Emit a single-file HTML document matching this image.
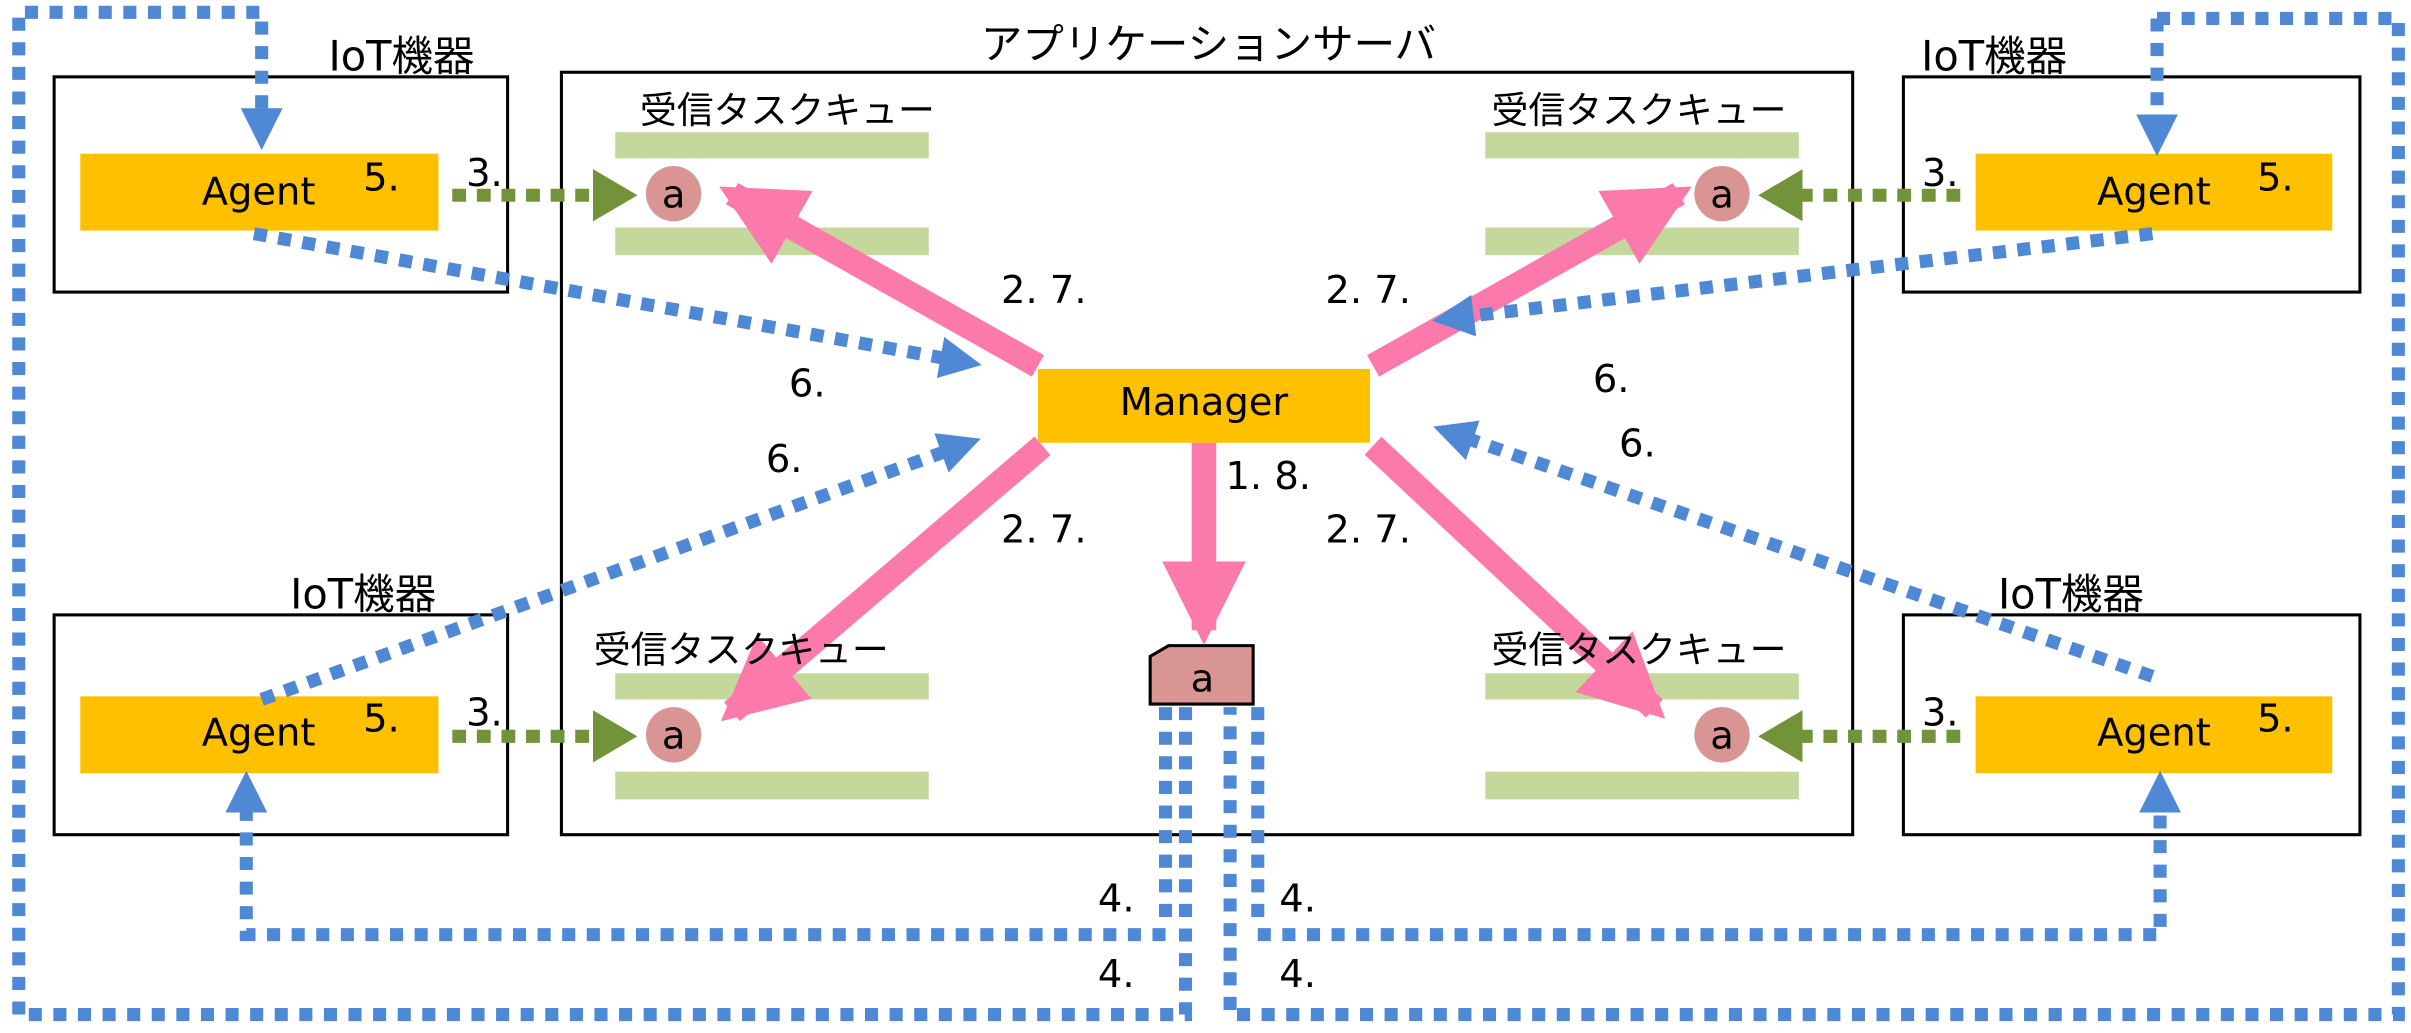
<!DOCTYPE html>
<html><head><meta charset="utf-8"><style>
html,body{margin:0;padding:0;background:#fff}
svg{display:block}
text{font-family:"DejaVu Sans","Noto Sans CJK JP",sans-serif;fill:#000}
</style></head><body>
<svg width="2411" height="1033" viewBox="0 0 1568 672" xmlns="http://www.w3.org/2000/svg">
<defs>
<marker id="bl" markerWidth="3.2" markerHeight="3.2" refX="1.6" refY="1.6" orient="auto" markerUnits="strokeWidth"><path d="M0,0 L3.2,1.6 L0,3.2 Z" fill="#4f88d5"/></marker>
<marker id="gr" markerWidth="3.4" markerHeight="4" refX="1.7" refY="2" orient="auto" markerUnits="strokeWidth"><path d="M0,0 L3.4,2 L0,4 Z" fill="#72933a"/></marker>
<marker id="pk" markerWidth="3.4" markerHeight="3.4" refX="2.8" refY="1.7" orient="auto" markerUnits="strokeWidth"><path d="M0,0 L3.4,1.7 L0,3.4 Z" fill="#fb7aab"/></marker>
</defs>
<g fill="none" stroke="#000" stroke-width="2">
<rect x="35" y="50" width="295" height="140"/>
<rect x="1238" y="50" width="297" height="140"/>
<rect x="35" y="400" width="295" height="143"/>
<rect x="1238" y="400" width="297" height="143"/>
<rect x="365" y="47" width="840" height="496"/>
</g>
<g fill="#c5d89c">
<rect x="400" y="86" width="204" height="17"/><rect x="400" y="148" width="204" height="18"/>
<rect x="966" y="86" width="204" height="17"/><rect x="966" y="148" width="204" height="18"/>
<rect x="400" y="438" width="204" height="17"/><rect x="400" y="502" width="204" height="18"/>
<rect x="966" y="438" width="204" height="17"/><rect x="966" y="502" width="204" height="18"/>
</g>
<g fill="#ffc000">
<rect x="52" y="100" width="233" height="50"/>
<rect x="1285" y="100" width="232" height="50"/>
<rect x="52" y="453" width="233" height="50"/>
<rect x="1285" y="453" width="232" height="50"/>
<rect x="675" y="240" width="216" height="48"/>
</g>
<g fill="#d99594">
<circle cx="438" cy="126" r="18"/><circle cx="1120" cy="126" r="18"/>
<circle cx="438" cy="478" r="18"/><circle cx="1120" cy="478" r="18"/>
</g>
<path d="M760,420 L815,420 L815,458 L748,458 L748,427 Z" fill="#d99594" stroke="#000" stroke-width="2"/>
<g stroke="#fb7aab" stroke-width="16" fill="none">
<line x1="675" y1="238" x2="476" y2="126" marker-end="url(#pk)"/>
<line x1="893" y1="238" x2="1092" y2="126" marker-end="url(#pk)"/>
<line x1="678" y1="290" x2="476" y2="463" marker-end="url(#pk)"/>
<line x1="893" y1="290" x2="1076" y2="461" marker-end="url(#pk)"/>
<line x1="783" y1="288" x2="783" y2="410" marker-end="url(#pk)"/>
</g>
<g stroke="#72933a" stroke-width="8.5" stroke-dasharray="9 7" fill="none">
<line x1="294" y1="127" x2="400" y2="127" marker-end="url(#gr)"/>
<line x1="294" y1="479" x2="400" y2="479" marker-end="url(#gr)"/>
<line x1="1275" y1="127" x2="1158" y2="127" marker-end="url(#gr)"/>
<line x1="1275" y1="479" x2="1158" y2="479" marker-end="url(#gr)"/>
</g>
<g stroke="#4f88d5" stroke-width="8.5" stroke-dasharray="8.5 7.5" fill="none">
<line x1="165" y1="152" x2="625" y2="235" marker-end="url(#bl)"/>
<line x1="1400" y1="152" x2="945" y2="207" marker-end="url(#bl)"/>
<line x1="170" y1="455" x2="625" y2="290" marker-end="url(#bl)"/>
<line x1="1400" y1="440" x2="945" y2="282" marker-end="url(#bl)"/>
<polyline points="12,660 12,8 170,8 170,84" marker-end="url(#bl)"/>
<polyline points="771,460 771,660 12,660"/>
<polyline points="1403,12 1560,12 1560,660 800,660 800,460"/>
<line x1="1403" y1="12" x2="1403" y2="88" marker-end="url(#bl)"/>
<polyline points="758,460 758,600"/>
<polyline points="818,460 818,600"/>
<polyline points="758,608 160,608 160,515" marker-end="url(#bl)"/>
<polyline points="818,608 1405,608 1405,515" marker-end="url(#bl)"/>
</g>
<g font-size="25">
<text x="261" y="46" text-anchor="middle" font-size="27">IoT機器</text>
<text x="1297" y="46" text-anchor="middle" font-size="27">IoT機器</text>
<text x="236" y="396" text-anchor="middle" font-size="27">IoT機器</text>
<text x="1347" y="396" text-anchor="middle" font-size="27">IoT機器</text>
<text x="786" y="38" text-anchor="middle" font-size="27">アプリケーションサーバ</text>
<text x="512" y="80" text-anchor="middle" font-size="24">受信タスクキュー</text>
<text x="1066" y="80" text-anchor="middle" font-size="24">受信タスクキュー</text>
<text x="482" y="431" text-anchor="middle" font-size="24">受信タスクキュー</text>
<text x="1066" y="431" text-anchor="middle" font-size="24">受信タスクキュー</text>
<text x="168" y="133" text-anchor="middle">Agent</text>
<text x="1401" y="133" text-anchor="middle">Agent</text>
<text x="168" y="485" text-anchor="middle">Agent</text>
<text x="1401" y="485" text-anchor="middle">Agent</text>
<text x="783" y="270" text-anchor="middle">Manager</text>
<text x="438" y="135" text-anchor="middle">a</text>
<text x="1120" y="135" text-anchor="middle">a</text>
<text x="438" y="487" text-anchor="middle">a</text>
<text x="1120" y="487" text-anchor="middle">a</text>
<text x="782" y="450" text-anchor="middle">a</text>
<text x="236" y="124">5.</text><text x="1468" y="124">5.</text>
<text x="236" y="476">5.</text><text x="1468" y="476">5.</text>
<text x="303" y="121">3.</text><text x="1250" y="121">3.</text>
<text x="303" y="472">3.</text><text x="1250" y="472">3.</text>
<text x="651" y="197">2. 7.</text><text x="862" y="197">2. 7.</text>
<text x="651" y="353">2. 7.</text><text x="862" y="353">2. 7.</text>
<text x="797" y="318">1. 8.</text>
<text x="513" y="258">6.</text><text x="498" y="307">6.</text>
<text x="1036" y="255">6.</text><text x="1053" y="297">6.</text>
<text x="714" y="593">4.</text><text x="832" y="593">4.</text>
<text x="714" y="642">4.</text><text x="832" y="642">4.</text>
</g>
</svg>
</body></html>
